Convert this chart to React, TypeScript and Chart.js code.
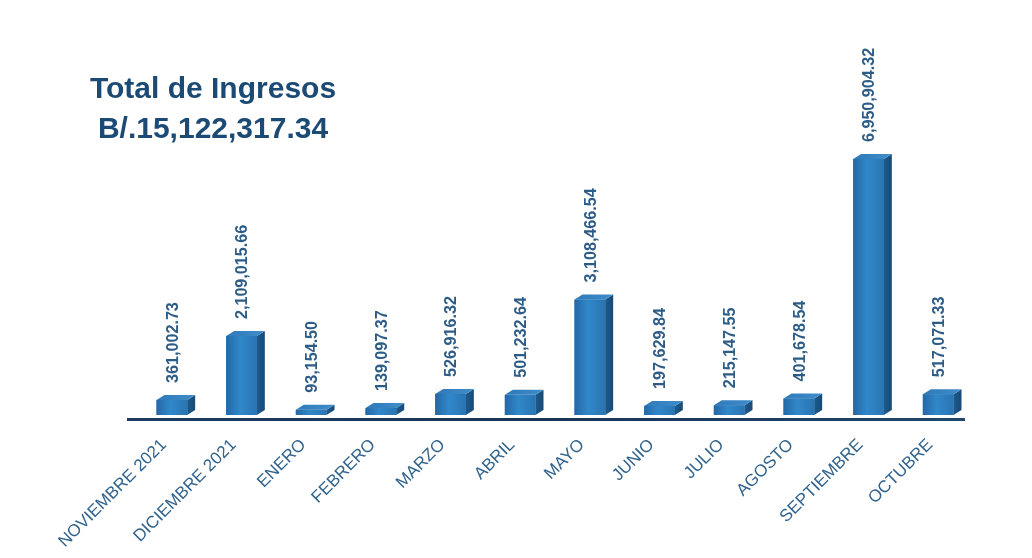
import React, { useEffect, useRef } from "react";
import { Chart, registerables } from "chart.js";

Chart.register(...registerables);

const categories = [
  "NOVIEMBRE 2021",
  "DICIEMBRE 2021",
  "ENERO",
  "FEBRERO",
  "MARZO",
  "ABRIL",
  "MAYO",
  "JUNIO",
  "JULIO",
  "AGOSTO",
  "SEPTIEMBRE",
  "OCTUBRE",
];

const ingresos = [
  361002.73, 2109015.66, 93154.5, 139097.37, 526916.32, 501232.64, 3108466.54,
  197629.84, 215147.55, 401678.54, 6950904.32, 517071.33,
];

const titleLines = ["Total de Ingresos", "B/.15,122,317.34"];

const Y_MIN = -50000;
const Y_MAX = 7500000;

const FONT = "'Liberation Sans', Arial, sans-serif";
const DX = 8;
const DY = 5;

const fmt = (v: number) =>
  v.toLocaleString("en-US", { minimumFractionDigits: 2, maximumFractionDigits: 2 });

const bar3dPlugin = {
  id: "bar3d",
  afterDatasetsDraw(chart: any) {
    const { ctx, chartArea } = chart;
    const meta = chart.getDatasetMeta(0);
    ctx.save();
    // axis line
    const ag = ctx.createLinearGradient(chartArea.left - 10, 0, chartArea.right - 8, 0);
    ag.addColorStop(0, "#1d3c60");
    ag.addColorStop(0.5, "#1a3457");
    ag.addColorStop(1, "#22466d");
    ctx.fillStyle = ag;
    ctx.fillRect(chartArea.left - 10, chartArea.bottom + 3, chartArea.right - chartArea.left + 2, 3);

    meta.data.forEach((bar: any, i: number) => {
      const { x, y, base, width } = bar.getProps(["x", "y", "base", "width"], true);
      const l = x - width / 2;
      const r = x + width / 2;
      // front face
      const fg = ctx.createLinearGradient(l, 0, r, 0);
      fg.addColorStop(0, "#2567a6");
      fg.addColorStop(0.45, "#3088c9");
      fg.addColorStop(1, "#2a74b3");
      ctx.fillStyle = fg;
      ctx.fillRect(l, y, width, base - y);
      // side face
      const sg = ctx.createLinearGradient(r, 0, r + DX, 0);
      sg.addColorStop(0, "#1e5a8c");
      sg.addColorStop(1, "#174a76");
      ctx.fillStyle = sg;
      ctx.beginPath();
      ctx.moveTo(r, y);
      ctx.lineTo(r + DX, y - DY);
      ctx.lineTo(r + DX, base - DY);
      ctx.lineTo(r, base);
      ctx.closePath();
      ctx.fill();
      // top face
      const tg = ctx.createLinearGradient(l, 0, r + DX, 0);
      tg.addColorStop(0, "#2f79b8");
      tg.addColorStop(1, "#3f8dca");
      ctx.fillStyle = tg;
      ctx.beginPath();
      ctx.moveTo(l, y);
      ctx.lineTo(l + DX, y - DY);
      ctx.lineTo(r + DX, y - DY);
      ctx.lineTo(r, y);
      ctx.closePath();
      ctx.fill();

      // value label
      ctx.save();
      ctx.translate(x + 1, y - 17);
      ctx.rotate(-Math.PI / 2);
      ctx.scale(0.95, 1);
      ctx.font = `bold 17px ${FONT}`;
      ctx.fillStyle = "#2d5c86";
      ctx.textAlign = "left";
      ctx.textBaseline = "middle";
      ctx.fillText(fmt(ingresos[i]), 0, 0);
      ctx.restore();
    });
    ctx.restore();
  },
  afterDraw(chart: any) {
    const { ctx } = chart;
    ctx.save();
    ctx.font = `bold 30px ${FONT}`;
    ctx.fillStyle = "#1b4a75";
    ctx.textAlign = "center";
    ctx.textBaseline = "alphabetic";
    ctx.fillText(titleLines[0], 213, 98);
    ctx.fillText(titleLines[1], 213, 138);
    ctx.restore();
  },
};

export default function App() {
  const ref = useRef<HTMLCanvasElement>(null);
  useEffect(() => {
    document.body.style.margin = "0";
    const chart = new Chart(ref.current as HTMLCanvasElement, {
      type: "bar",
      data: {
        labels: categories,
        datasets: [
          {
            data: ingresos,
            base: Y_MIN,
            backgroundColor: "#2c7dbf",
            borderWidth: 0,
            barPercentage: 0.44,
            categoryPercentage: 1,
          } as any,
        ],
      },
      options: {
        animation: false,
        responsive: false,
        devicePixelRatio: 1,
        layout: { padding: { left: 137, right: 59, top: 139, bottom: 0 } },
        plugins: { legend: { display: false }, tooltip: { enabled: false }, title: { display: false } },
        scales: {
          y: { display: false, min: Y_MIN, max: Y_MAX },
          x: {
            grid: { display: false, drawTicks: false },
            border: { display: false },
            afterFit: (scale: any) => {
              scale.height = 143;
            },
            ticks: {
              maxRotation: 45,
              minRotation: 45,
              autoSkip: false,
              padding: 20,
              labelOffset: -8,
              color: "#31638d",
              font: { family: FONT, size: 17 },
            },
          },
        },
      },
      plugins: [bar3dPlugin],
    });
    return () => chart.destroy();
  }, []);
  return (
    <div style={{ width: 1032, height: 558, background: "#fff" }}>
      <canvas ref={ref} width={1032} height={558} />
    </div>
  );
}
